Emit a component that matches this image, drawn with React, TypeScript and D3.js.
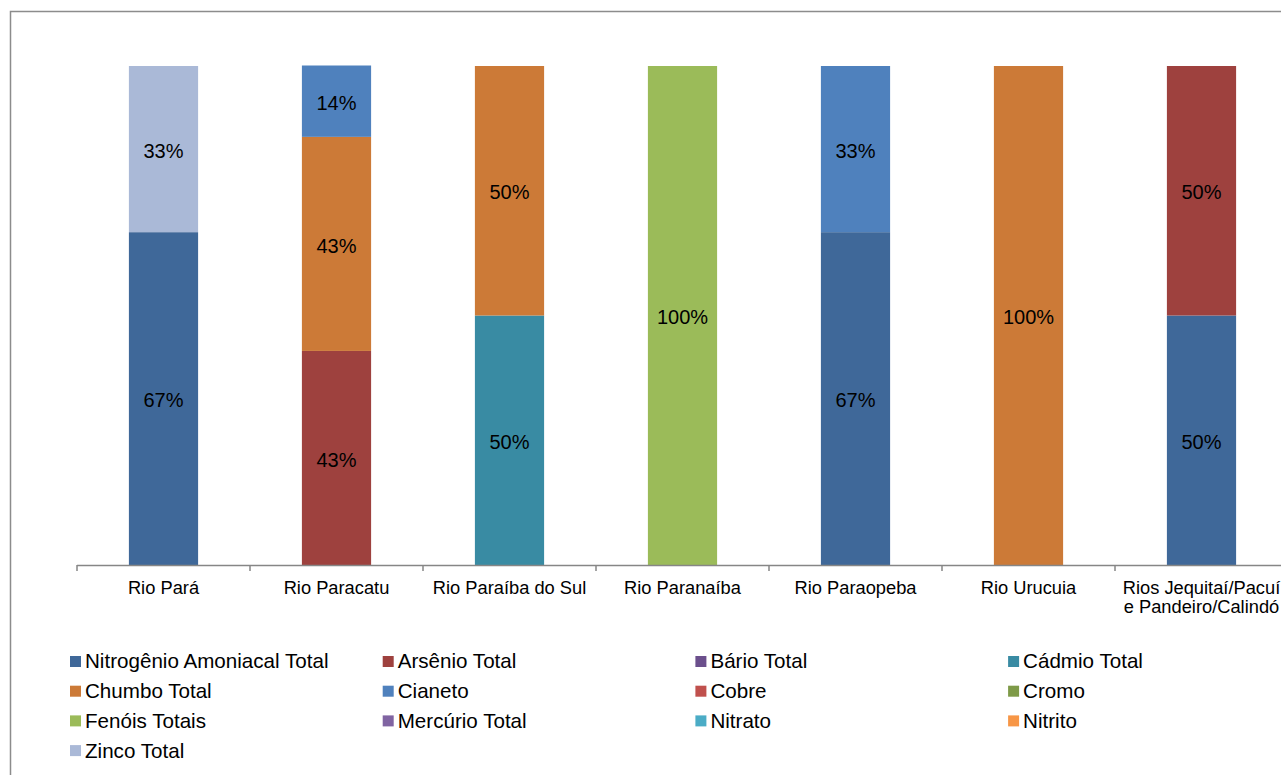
import React from 'react';
import * as d3 from 'd3';

// rivers on the x axis (the last one breaks over two lines)
const rivers = [
  ['Rio Pará'],
  ['Rio Paracatu'],
  ['Rio Paraíba do Sul'],
  ['Rio Paranaíba'],
  ['Rio Paraopeba'],
  ['Rio Urucuia'],
  ['Rios Jequitaí/Pacuí', 'e Pandeiro/Calindó'],
];

const seriesNames = [
  'Nitrogênio Amoniacal Total', 'Arsênio Total', 'Bário Total', 'Cádmio Total',
  'Chumbo Total', 'Cianeto', 'Cobre', 'Cromo',
  'Fenóis Totais', 'Mercúrio Total', 'Nitrato', 'Nitrito',
  'Zinco Total',
];

const seriesColors = [
  '#3F6899', '#9E413E', '#6B4F8C', '#398BA3',
  '#CC7A37', '#4F81BD', '#C0504D', '#7E9A48',
  '#9BBB59', '#8064A2', '#4BACC6', '#F79646',
  '#AAB9D7',
];

// share (%) of each parameter per river, same order as rivers
const nitrogenio = [66.7, 0, 0, 0, 66.7, 0, 50];
const arsenio = [0, 42.9, 0, 0, 0, 0, 50];
const bario = [0, 0, 0, 0, 0, 0, 0];
const cadmio = [0, 0, 50, 0, 0, 0, 0];
const chumbo = [0, 42.9, 50, 0, 0, 100, 0];
const cianeto = [0, 14.3, 0, 0, 33.3, 0, 0];
const cobre = [0, 0, 0, 0, 0, 0, 0];
const cromo = [0, 0, 0, 0, 0, 0, 0];
const fenois = [0, 0, 0, 100, 0, 0, 0];
const mercurio = [0, 0, 0, 0, 0, 0, 0];
const nitrato = [0, 0, 0, 0, 0, 0, 0];
const nitrito = [0, 0, 0, 0, 0, 0, 0];
const zinco = [33.3, 0, 0, 0, 0, 0, 0];

const seriesValues = [
  nitrogenio, arsenio, bario, cadmio, chumbo, cianeto, cobre,
  cromo, fenois, mercurio, nitrato, nitrito, zinco,
];

const W = 1281;
const H = 775;
const FONT = '"Liberation Sans", Arial, sans-serif';

export default function App() {
  const left = 77;
  const step = 173;
  const plotTop = 66;
  const plotBottom = 565;

  const rows = rivers.map((r, i) => {
    const row: any = { key: i };
    seriesNames.forEach((s, j) => (row[s] = seriesValues[j][i]));
    return row;
  });
  const stacked = d3.stack<any>().keys(seriesNames)(rows);

  const x = d3
    .scaleBand<number>()
    .domain(rivers.map((_, i) => i))
    .range([left, left + step * rivers.length])
    .paddingInner(0.6)
    .paddingOuter(0.3);
  const y = d3.scaleLinear().domain([0, 100]).range([plotBottom, plotTop]);

  const ticks = d3.range(rivers.length + 1).map((i) => left + i * step);
  const cx = (i: number) => (x(i) as number) + x.bandwidth() / 2;

  return (
    <svg width={W} height={H} style={{ position: 'absolute', left: 0, top: 0, fontFamily: FONT }}>
      <rect x={0} y={0} width={W} height={H} fill="#fff" />
      <rect x={10.5} y={11.5} width={1400} height={900} fill="none" stroke="#8C8C8C" strokeWidth={1.5} />

      {stacked.map((layer, j) => (
        <g key={seriesNames[j]} fill={seriesColors[j]}>
          {layer.map((d, i) =>
            d[1] - d[0] > 0 ? (
              <rect
                key={i}
                x={x(i)}
                y={y(d[1])}
                width={x.bandwidth()}
                height={y(d[0]) - y(d[1])}
              />
            ) : null
          )}
        </g>
      ))}

      {stacked.map((layer, j) =>
        layer.map((d, i) =>
          d[1] - d[0] > 0 ? (
            <text
              key={`${j}-${i}`}
              x={cx(i)}
              y={(y(d[0]) + y(d[1])) / 2 + 1.5}
              dy="0.36em"
              textAnchor="middle"
              fontSize={20}
              fill="#000"
            >
              {Math.round(d[1] - d[0])}%
            </text>
          ) : null
        )
      )}

      {/* x axis */}
      <line x1={left} x2={W + 20} y1={plotBottom + 0.5} y2={plotBottom + 0.5} stroke="#868686" strokeWidth={1.5} />
      {ticks.map((t) => (
        <line key={t} x1={t} x2={t} y1={plotBottom} y2={plotBottom + 6} stroke="#868686" strokeWidth={1.5} />
      ))}
      {rivers.map((lines, i) => (
        <text key={i} x={cx(i)} y={594} textAnchor="middle" fontSize={18.3} fill="#000">
          {lines.map((l, k) => (
            <tspan key={k} x={cx(i)} dy={k === 0 ? 0 : 19}>
              {l}
            </tspan>
          ))}
        </text>
      ))}

      {/* legend */}
      {seriesNames.map((s, j) => {
        const col = j % 4;
        const row = Math.floor(j / 4);
        const lx = 70 + col * 312.7;
        const ly = 661 + row * 29.7;
        return (
          <g key={s}>
            <rect x={lx} y={ly - 5} width={11} height={11} fill={seriesColors[j]} />
            <text x={lx + 15} y={ly} dy="0.36em" fontSize={20.6} fill="#000">
              {s}
            </text>
          </g>
        );
      })}
    </svg>
  );
}
